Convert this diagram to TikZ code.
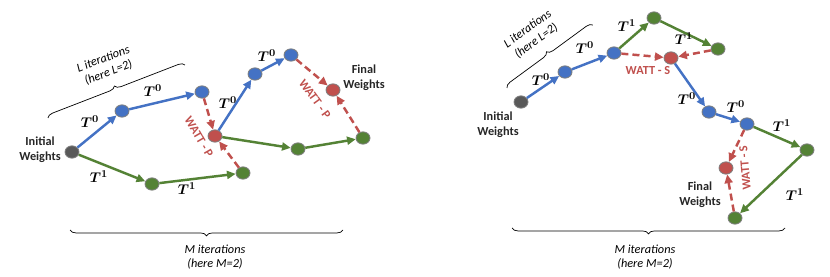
\documentclass[tikz,border=0pt]{standalone}
\usepackage{amsmath,amssymb}
\usepackage{fontspec}
\setmainfont{Carlito}
\usepackage{tikz}
\usetikzlibrary{arrows.meta,shapes.geometric,decorations.pathreplacing}
\definecolor{cblue}{HTML}{4472C4}
\definecolor{cgreen}{HTML}{548235}
\definecolor{cred}{HTML}{C0504D}
\definecolor{cgray}{HTML}{595959}
\definecolor{cedge}{HTML}{7F7F7F}
\tikzset{
  wt/.style={ellipse, draw=cedge, line width=0.7pt, inner sep=0pt, minimum width=4.2mm, minimum height=3.7mm},
  wblue/.style={wt, fill=cblue},
  wgreen/.style={wt, fill=cgreen},
  wred/.style={wt, fill=cred},
  winit/.style={wt, fill=cgray},
  tr/.style={-{Triangle[length=2.6mm,width=2.4mm]}, line width=2.1pt},
  tzero/.style={tr, draw=cblue},
  tone/.style={tr, draw=cgreen},
  watt/.style={tr, draw=cred, dash pattern=on 6pt off 3.5pt},
  tlbl/.style={font=\fontsize{12.5}{14}\selectfont, inner sep=1pt},
  wlbl/.style={font=\bfseries\fontsize{10.5}{12}\selectfont, text=cred, inner sep=1pt},
  txt/.style={font=\bfseries\fontsize{10.5}{12.5}\selectfont, align=center, text=black!85},
  itr/.style={font=\itshape\fontsize{10.5}{12.5}\selectfont, align=center},
}

\begin{document}
\begin{tikzpicture}[x=0.03cm, y=0.03cm,
  brc/.style={decorate, decoration={brace, amplitude=5pt}, line width=0.6pt},
  brcm/.style={decorate, decoration={brace, mirror, amplitude=5pt}, line width=0.6pt}]
\useasboundingbox (0,0) rectangle (830,277);
% parallel (WATT - P)
\node[winit] (li) at (72,125) {};
\node[wblue] (lb1) at (122,166) {};
\node[wblue] (lb2) at (202,185) {};
\node[wgreen] (lg1) at (152,93) {};
\node[wgreen] (lg2) at (243,104) {};
\node[wred] (lr1) at (215,141) {};
\node[wblue] (lb3) at (255,203) {};
\node[wblue] (lb4) at (291,222) {};
\node[wgreen] (lg3) at (298,128) {};
\node[wgreen] (lg4) at (363,139) {};
\node[wred] (lr2) at (333,187) {};
\draw[tzero] (li) -- (lb1); \draw[tzero] (lb1) -- (lb2); \draw[tone] (li) -- (lg1); \draw[tone] (lg1) -- (lg2);
\draw[watt] (lb2) -- (lr1); \draw[watt] (lg2) -- (lr1);
\draw[tzero] (lr1) -- (lb3); \draw[tzero] (lb3) -- (lb4); \draw[tone] (lr1) -- (lg3); \draw[tone] (lg3) -- (lg4);
\draw[watt] (lb4) -- (lr2); \draw[watt] (lg4) -- (lr2);
\node[txt] (linit) at (40,127) {Initial\\Weights};
\node[txt] (lfin) at (364,199) {Final\\Weights};
\node[tlbl] (lt1) at (90,155) {$\boldsymbol{T^{0}}$};
\node[tlbl] (lt2) at (153,186) {$\boldsymbol{T^{0}}$};
\node[tlbl] (lt3) at (99,100) {$\boldsymbol{T^{1}}$};
\node[tlbl] (lt4) at (187,88) {$\boldsymbol{T^{1}}$};
\node[tlbl] (lt5) at (228,174) {$\boldsymbol{T^{0}}$};
\node[tlbl] (lt6) at (267,221) {$\boldsymbol{T^{0}}$};
\node[wlbl, rotate=-60] (lw1) at (199,140) {WATT - P};
\node[wlbl, rotate=-54] (lw2) at (315,178) {WATT - P};
\coordinate (lla) at (48,159); \coordinate (llb) at (185,212);
\draw[brc] (lla) -- (llb);
\node[itr, rotate=21] (lll) at (106,211) {L iterations\\(here L=2)};
\coordinate (lma) at (70,47); \coordinate (lmb) at (343,47);
\draw[brcm] (lma) -- (lmb);
\node[itr] (lml) at (215,20) {M iterations\\(here M=2)};
% sequential (WATT - S)
\node[winit] (ri) at (521,175) {};
\node[wblue] (rb1) at (565,205) {};
\node[wblue] (rb2) at (614,224) {};
\node[wgreen] (rg1) at (654,259) {};
\node[wgreen] (rg2) at (718,228) {};
\node[wred] (rr1) at (671,219) {};
\node[wblue] (rb3) at (709,165) {};
\node[wblue] (rb4) at (747,153) {};
\node[wgreen] (rg3) at (807,127) {};
\node[wgreen] (rg4) at (735,59) {};
\node[wred] (rr2) at (726,109) {};
\draw[tzero] (ri) -- (rb1); \draw[tzero] (rb1) -- (rb2); \draw[tone] (rb2) -- (rg1); \draw[tone] (rg1) -- (rg2);
\draw[watt] (rb2) -- (rr1); \draw[watt] (rg2) -- (rr1);
\draw[tzero] (rr1) -- (rb3); \draw[tzero] (rb3) -- (rb4); \draw[tone] (rb4) -- (rg3); \draw[tone] (rg3) -- (rg4);
\draw[watt] (rb4) -- (rr2); \draw[watt] (rg4) -- (rr2);
\node[txt] (rinit) at (498,152) {Initial\\Weights};
\node[txt] (rfin) at (700,82) {Final\\Weights};
\node[tlbl] (rt1) at (541,197) {$\boldsymbol{T^{0}}$};
\node[tlbl] (rt2) at (585,229) {$\boldsymbol{T^{0}}$};
\node[tlbl] (rt3) at (627,251) {$\boldsymbol{T^{1}}$};
\node[tlbl] (rt4) at (684,238) {$\boldsymbol{T^{1}}$};
\node[tlbl] (rt5) at (687,178) {$\boldsymbol{T^{0}}$};
\node[tlbl] (rt6) at (736,170) {$\boldsymbol{T^{0}}$};
\node[tlbl] (rt7) at (782,151) {$\boldsymbol{T^{1}}$};
\node[tlbl] (rt8) at (795,82) {$\boldsymbol{T^{1}}$};
\node[wlbl] (rw1) at (648,206) {WATT - S};
\node[wlbl, rotate=95] (rw2) at (745,109) {WATT - S};
\coordinate (rla) at (507,189); \coordinate (rlb) at (593,252);
\draw[brc] (rla) -- (rlb);
\node[itr, rotate=36] (rll) at (532,242) {L iterations\\(here L=2)};
\coordinate (rma) at (512,49); \coordinate (rmb) at (785,49);
\draw[brcm] (rma) -- (rmb);
\node[itr] (rml) at (645,20) {M iterations\\(here M=2)};
\end{tikzpicture}
\end{document}
